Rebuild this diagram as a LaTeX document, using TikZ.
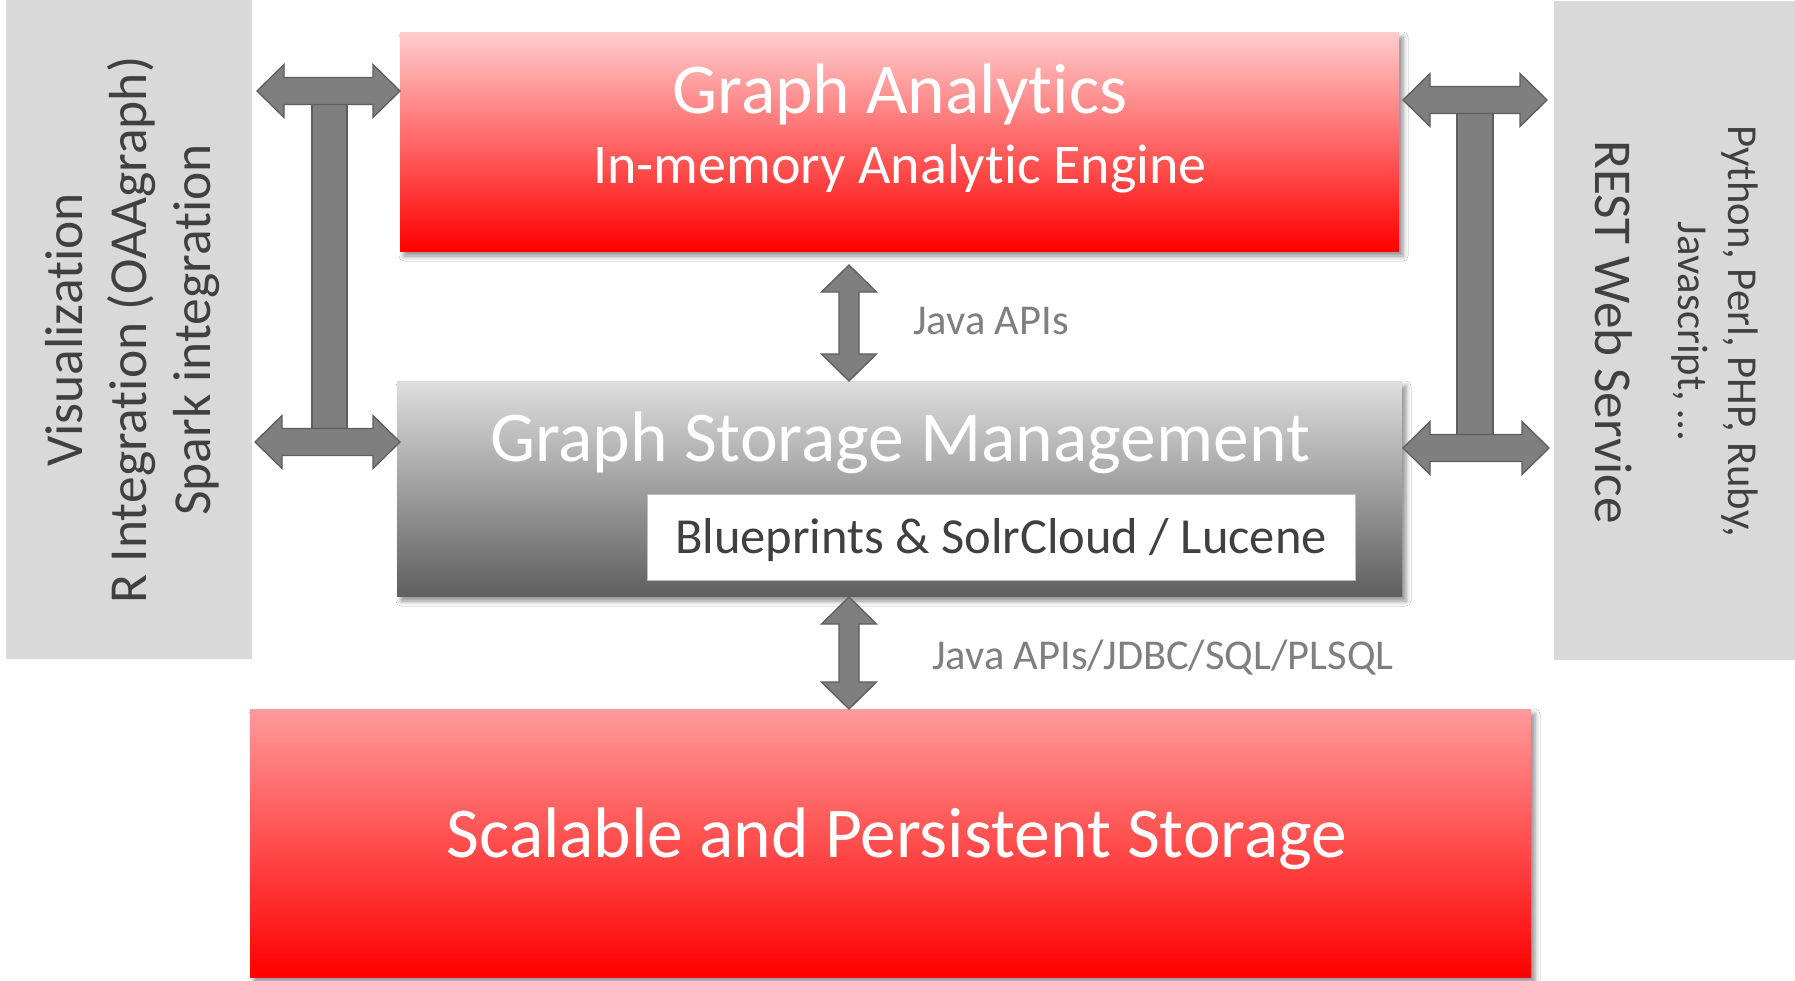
\documentclass[tikz,border=0pt]{standalone}
\usepackage{fontspec}
\setmainfont[Ligatures=NoCommon]{Carlito}
\usetikzlibrary{shadows.blur}

\definecolor{sidegray}{HTML}{D9D9D9}
\definecolor{arrowfill}{HTML}{7F7F7F}
\definecolor{arrowline}{HTML}{5E5E5E}
\definecolor{darktext}{HTML}{404040}
\definecolor{labeltext}{HTML}{7F7F7F}
\definecolor{pinktop}{HTML}{FFCDCD}
\definecolor{salmontop}{HTML}{FF9A9A}
\definecolor{graytop}{HTML}{DEDEDE}
\definecolor{graybottom}{HTML}{5F5F5F}

% horizontal double block arrow: #1 = y of axis, #2 = left tip, #3 = right tip
\newcommand{\hblock}[3]{%
  \draw[blockarrow] (#2,#1) -- ({#2+27},{#1-26.5}) -- ({#2+27},{#1-13.5})
    -- ({#3-27},{#1-13.5}) -- ({#3-27},{#1-26.5}) -- (#3,#1)
    -- ({#3-27},{#1+26.5}) -- ({#3-27},{#1+13.5}) -- ({#2+27},{#1+13.5})
    -- ({#2+27},{#1+26.5}) -- cycle;}
% vertical double block arrow: #1 = x of axis, #2 = top tip, #3 = bottom tip
\newcommand{\vblock}[3]{%
  \draw[blockarrow] (#1,#2) -- ({#1+27.5},{#2+27}) -- ({#1+10},{#2+27})
    -- ({#1+10},{#3-27}) -- ({#1+27.5},{#3-27}) -- (#1,#3)
    -- ({#1-27.5},{#3-27}) -- ({#1-10},{#3-27}) -- ({#1-10},{#2+27})
    -- ({#1-27.5},{#2+27}) -- cycle;}

\begin{document}
\begin{tikzpicture}[x=1pt,y=-1pt,
  blockarrow/.style={fill=arrowfill, draw=arrowline, line width=1.3pt, line join=miter},
  layerbox/.style={inner sep=0pt, outer sep=0pt,
    blur shadow={shadow xshift=4pt, shadow yshift=-5pt, shadow blur radius=5pt, shadow opacity=45}},
  sidebox/.style={fill=sidegray, inner sep=0pt, outer sep=0pt},
  whitetext/.style={text=white, inner sep=0pt, anchor=base},
  sidetext/.style={text=darktext, inner sep=0pt, anchor=base},
  apilabel/.style={text=labeltext, inner sep=0pt, anchor=base west,
    font=\fontsize{42.5}{50}\selectfont}]

\useasboundingbox (0,0) rectangle (1795,980);
\fill[white] (0,0) rectangle (1795,980);

% side panels
\node[sidebox, minimum width=246pt, minimum height=659pt] (left) at (129,329.5) {};
\node[sidebox, minimum width=241pt, minimum height=659pt] (right) at (1674.5,330.5) {};

\node[sidetext, rotate=90, font=\fontsize{53.5}{64}\selectfont] (vis) at (82,330) {Visualization};
\node[sidetext, rotate=90, font=\fontsize{53.5}{64}\selectfont] (rint) at (146,330) {R Integration (OAAgraph)};
\node[sidetext, rotate=90, font=\fontsize{53.5}{64}\selectfont] (spark) at (210,330) {Spark integration};

\node[sidetext, rotate=-90, font=\fontsize{53.2}{64}\selectfont] (rest) at (1595,332) {REST Web Service};
\node[sidetext, rotate=-90, font=\fontsize{42.7}{52}\selectfont] (langs) at (1728,331) {Python, Perl, PHP, Ruby,};
\node[sidetext, rotate=-90, font=\fontsize{42.7}{52}\selectfont] (js) at (1678,331) {Javascript, …};

% layers
\node[layerbox, top color=pinktop, bottom color=red, minimum width=999pt, minimum height=219pt] (ga) at (899.5,141.5) {};
\node[layerbox, top color=graytop, bottom color=graybottom, minimum width=1005pt, minimum height=215pt] (gsm) at (899.5,488.5) {};
\node[layerbox, top color=salmontop, bottom color=red, minimum width=1281pt, minimum height=268pt] (sps) at (890.5,843) {};
\node[fill=white, draw=black!25, line width=1pt, minimum width=708pt, minimum height=86pt, inner sep=0pt] (bp) at (1001,537) {};

\node[whitetext, font=\fontsize{71.5}{86}\selectfont] (gatitle) at (900,113) {Graph Analytics};
\node[whitetext, font=\fontsize{56}{66}\selectfont] (gasub) at (900,183) {In-memory Analytic Engine};
\node[whitetext, font=\fontsize{71.5}{86}\selectfont] (gsmtitle) at (900,461) {Graph Storage Management};
\node[sidetext, font=\fontsize{50.5}{60}\selectfont] (bptext) at (1001,553) {Blueprints \& SolrCloud / Lucene};
\node[whitetext, font=\fontsize{71.5}{86}\selectfont] (spstitle) at (897,857) {Scalable and Persistent Storage};

% connectors between layers
\vblock{849}{265}{381}
\vblock{849}{597}{709}
\node[apilabel] (api1) at (913,334) {Java APIs};
\node[apilabel] (api2) at (932,669) {Java APIs/JDBC/SQL/PLSQL};

% client connectors on the left
\draw[blockarrow] (312,104) rectangle (347,429);
\hblock{91}{257}{400}
\hblock{442}{255}{400}

% client connectors on the right
\draw[blockarrow] (1457,113) rectangle (1493,435);
\hblock{100}{1403}{1547}
\hblock{448}{1403}{1549}
\end{tikzpicture}
\end{document}
